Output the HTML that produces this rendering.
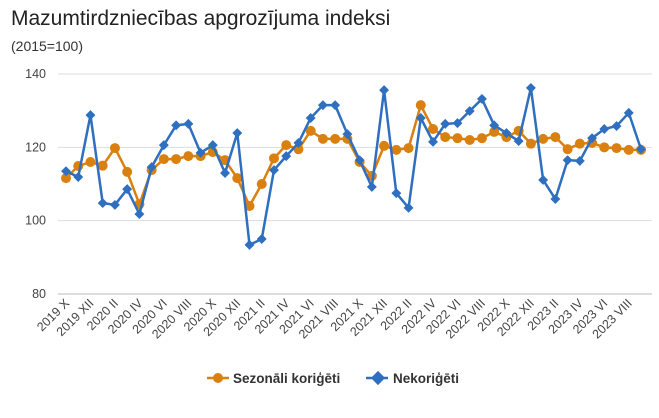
<!DOCTYPE html>
<html><head><meta charset="utf-8"><style>
body{margin:0;background:#fff;font-family:"Liberation Sans",sans-serif}
</style></head><body>
<svg width="659" height="413" xmlns="http://www.w3.org/2000/svg" font-family="Liberation Sans, sans-serif">
<text x="11" y="25" font-size="21" fill="#222">Mazumtirdzniecības apgrozījuma indeksi</text>
<text x="11" y="51" font-size="14" fill="#333">(2015=100)</text>
<g id="grid"></g><g id="axes"></g><g id="series"></g>
<g>
<line x1="207" y1="378" x2="229" y2="378" stroke="#D9800F" stroke-width="2.5"/>
<circle cx="218" cy="378" r="5" fill="#D9800F"/>
<text x="233" y="383" font-size="13.5" font-weight="bold" fill="#333">Sezonāli koriģēti</text>
<line x1="366" y1="378" x2="388" y2="378" stroke="#2E6FBF" stroke-width="2.5"/>
<rect x="373" y="373" width="10" height="10" fill="#2E6FBF" transform="rotate(45 378 378)"/>
<text x="393" y="383" font-size="13.5" font-weight="bold" fill="#333">Nekoriģēti</text>
</g>
</svg>
<script>
const months=["X","XI","XII","I","II","III","IV","V","VI","VII","VIII","IX"];
const startYear=2019;
const seasonal=[111.6,114.9,116,115,119.8,113.3,104.5,113.8,116.8,116.8,117.6,117.6,118.7,116.5,111.6,104,110,117,120.6,119.5,124.5,122.3,122.3,122.3,116,112.2,120.4,119.3,119.8,131.5,125,122.8,122.5,122,122.5,124.2,122.8,124.5,121,122.3,122.8,119.5,121,121.2,120,119.8,119.3,119.3];
const unadjusted=[113.5,111.9,128.8,104.8,104.3,108.6,101.8,114.6,120.6,126,126.4,118.5,120.6,113,123.9,93.4,95,113.8,117.6,121.2,128,131.5,131.5,123.6,116.5,109.2,135.6,107.5,103.5,128,121.5,126.4,126.6,129.9,133.2,126,123.9,121.7,136.2,111.1,105.9,116.5,116.3,122.5,125,125.8,129.4,119.5];
const yTicks=[80,100,120,140];
const NS="http://www.w3.org/2000/svg";
const x0=66,x1=641,yTop=74,yBot=294,vMin=80,vMax=140;
const X=i=>x0+(x1-x0)*i/(seasonal.length-1);
const Y=v=>yBot-(v-vMin)/(vMax-vMin)*(yBot-yTop);
function mk(t,a,p){const e=document.createElementNS(NS,t);for(const k in a)e.setAttribute(k,a[k]);p.appendChild(e);return e;}
const grid=document.getElementById('grid'),axes=document.getElementById('axes'),ser=document.getElementById('series');
yTicks.forEach(v=>{
 const l=mk('line',{x1:58,x2:652,y1:Y(v),y2:Y(v),stroke:v==80?'#bbb':'#ddd','stroke-width':1},grid);
 
 
 const t=mk('text',{x:46,y:Y(v)+4,'font-size':12.5,fill:'#444','text-anchor':'end'},axes);
 t.textContent=v;
 
 
});
for(let i=0;i<seasonal.length;i+=2){
 const m=months[i%12];const yr=startYear+Math.floor((i+9)/12);
 const t=mk('text',{'font-size':12.5,fill:'#444','text-anchor':'end',transform:`translate(${X(i)+4},${yBot+10}) rotate(-45)`},axes);
 t.textContent=yr+' '+m;
 
 
}
function draw(vals,color,shape,name){
 const p=mk('polyline',{points:vals.map((v,i)=>X(i)+','+Y(v)).join(' '),fill:'none',stroke:color,'stroke-width':2.5,'stroke-linejoin':'round'},ser);
 
 
 vals.forEach((v,i)=>{
  let e;
  if(shape=='c')e=mk('circle',{cx:X(i),cy:Y(v),r:5,fill:color},ser);
  else e=mk('rect',{x:X(i)-3.5,y:Y(v)-3.5,width:7,height:7,fill:color,transform:`rotate(45 ${X(i)} ${Y(v)})`},ser);
  
  
 });
}
draw(seasonal,'#D9800F','c','seasonal');
draw(unadjusted,'#2E6FBF','d','unadjusted');
</script>
</body></html>
